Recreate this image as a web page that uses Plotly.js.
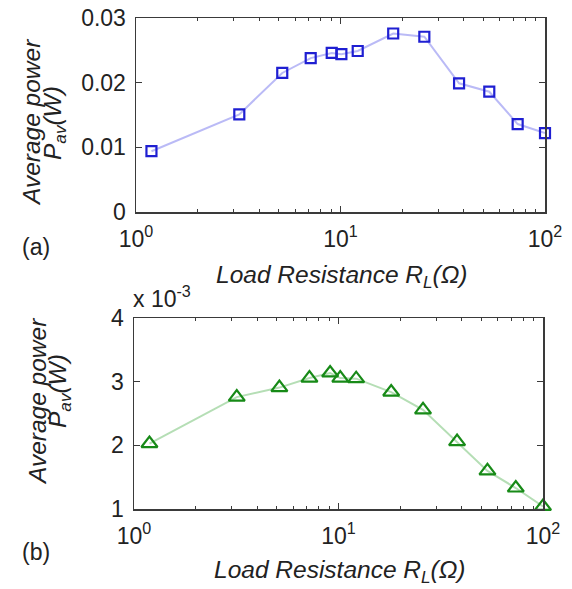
<!DOCTYPE html>
<html>
<head>
<meta charset="utf-8">
<script src="https://cdn.plot.ly/plotly-3.0.1.min.js"></script>
<style>
html,body{margin:0;padding:0;background:#fff;}
#chart{width:572px;height:589px;}
</style>
</head>
<body>
<div id="chart"></div>
<script>
// (a) load resistance (ohm) and average power (W)
var resistanceA = [1.19, 3.2, 5.19, 7.15, 9.06, 10.1, 12.14, 18.1, 25.7, 38.0, 53.4, 73.5, 100];
var powerA = [0.0094, 0.0151, 0.0215, 0.0238, 0.0246, 0.0244, 0.0249, 0.0276, 0.0271, 0.0199, 0.0186, 0.0136, 0.0122];
// (b) load resistance (ohm) and average power (x 10^-3 W)
var resistanceB = [1.19, 3.18, 5.14, 7.21, 9.1, 10.2, 12.2, 18.1, 25.9, 38.0, 53.5, 73.6, 100];
var powerB = [2.03, 2.76, 2.91, 3.06, 3.14, 3.06, 3.05, 2.84, 2.56, 2.06, 1.60, 1.33, 1.04];

var xTickVals = [1, 10, 100];
var xTickText = ['10<sup>0</sup>', '10<sup>1</sup>', '10<sup>2</sup>'];
var xMinorVals = [2, 3, 4, 5, 6, 7, 8, 9, 20, 30, 40, 50, 60, 70, 80, 90];
var yTickValsA = [0, 0.01, 0.02, 0.03];
var yTickTextA = ['0', '0.01', '0.02', '0.03'];
var yTickValsB = [1, 2, 3, 4];
var yTickTextB = ['1', '2', '3', '4'];

var FONT = 'Liberation Sans, Arial, Helvetica, sans-serif';
var W = 572, H = 589;
function px(x){ return x / W; }
function py(y){ return 1 - y / H; }

var axisColor = '#3a3a3a';
function xAxis(domain){
  return {
    type: 'log', range: [0, 2], domain: domain,
    tickmode: 'array', tickvals: xTickVals, ticktext: xTickText,
    showline: true, mirror: 'allticks', linecolor: axisColor, linewidth: 1.5,
    ticks: 'inside', ticklen: 6, tickcolor: axisColor, tickwidth: 1,
    minor: {tickmode: 'array', tickvals: xMinorVals, ticks: 'inside', ticklen: 3, tickcolor: axisColor, tickwidth: 1, showgrid: false},
    showgrid: false, zeroline: false, automargin: false, fixedrange: true,
    tickfont: {family: FONT, size: 23, color: '#222'},
    ticklabelstandoff: 6
  };
}
function yAxis(domain, range, vals, text){
  return {
    range: range, domain: domain,
    tickmode: 'array', tickvals: vals, ticktext: text,
    showline: true, mirror: 'allticks', linecolor: axisColor, linewidth: 1.5,
    ticks: 'inside', ticklen: 6, tickcolor: axisColor, tickwidth: 1,
    showgrid: false, zeroline: false, automargin: false, fixedrange: true,
    tickfont: {family: FONT, size: 23, color: '#222'},
    ticklabelstandoff: 4
  };
}

var traces = [
  {
    x: resistanceA, y: powerA, xaxis: 'x', yaxis: 'y',
    type: 'scatter', mode: 'lines+markers', cliponaxis: false,
    line: {color: 'rgba(130,130,238,0.55)', width: 2},
    marker: {symbol: 'square-open', size: 10, color: '#1f1fd2', line: {width: 2.2, color: '#1f1fd2'}}
  },
  {
    x: resistanceB, y: powerB, xaxis: 'x2', yaxis: 'y2',
    type: 'scatter', mode: 'lines+markers', cliponaxis: false,
    line: {color: 'rgba(120,195,120,0.55)', width: 2},
    marker: {symbol: 'triangle-up-open', size: 14, color: '#178a17', line: {width: 2.2, color: '#178a17'}}
  }
];

var TF = {family: FONT, size: 24.5, style: 'italic', color: '#222'};
var layout = {
  width: W, height: H,
  margin: {l: 0, r: 0, t: 0, b: 0},
  paper_bgcolor: '#fff', plot_bgcolor: '#fff',
  showlegend: false,
  font: {family: FONT, color: '#222'},
  xaxis: Object.assign(xAxis([px(136), px(545)]), {anchor: 'y'}),
  yaxis: Object.assign(yAxis([py(212), py(18)], [0, 0.03], yTickValsA, yTickTextA), {anchor: 'x'}),
  xaxis2: Object.assign(xAxis([px(134), px(543)]), {anchor: 'y2'}),
  yaxis2: Object.assign(yAxis([py(509), py(318.3)], [1, 4], yTickValsB, yTickTextB), {anchor: 'x2'}),
  annotations: [
    {text: 'Load Resistance R<sub>L</sub>(Ω)', xref: 'paper', yref: 'paper', x: px(342), y: py(276),
     xanchor: 'center', yanchor: 'middle', showarrow: false, font: TF},
    {text: 'Load Resistance R<sub>L</sub>(Ω)', xref: 'paper', yref: 'paper', x: px(340), y: py(571),
     xanchor: 'center', yanchor: 'middle', showarrow: false, font: TF},
    {text: 'Average power', xref: 'paper', yref: 'paper', x: px(32), y: py(123), textangle: -90,
     xanchor: 'center', yanchor: 'middle', showarrow: false, font: TF},
    {text: 'P<sub>av</sub>(W)', xref: 'paper', yref: 'paper', x: px(55), y: py(123), textangle: -90,
     xanchor: 'center', yanchor: 'middle', showarrow: false, font: TF},
    {text: 'Average power', xref: 'paper', yref: 'paper', x: px(37), y: py(402), textangle: -90,
     xanchor: 'center', yanchor: 'middle', showarrow: false, font: TF},
    {text: 'P<sub>av</sub>(W)', xref: 'paper', yref: 'paper', x: px(59), y: py(391), textangle: -90,
     xanchor: 'center', yanchor: 'middle', showarrow: false, font: TF},
    {text: '(a)', xref: 'paper', yref: 'paper', x: px(36), y: py(247),
     xanchor: 'center', yanchor: 'middle', showarrow: false, font: {family: FONT, size: 23, color: '#222'}},
    {text: '(b)', xref: 'paper', yref: 'paper', x: px(36), y: py(552),
     xanchor: 'center', yanchor: 'middle', showarrow: false, font: {family: FONT, size: 23, color: '#222'}},
    {text: 'x 10<sup>-3</sup>', xref: 'paper', yref: 'paper', x: px(131), y: py(297),
     xanchor: 'left', yanchor: 'middle', showarrow: false, font: {family: FONT, size: 23, color: '#222'}}
  ]
};

Plotly.newPlot('chart', traces, layout, {staticPlot: true, displayModeBar: false});
</script>
</body>
</html>
